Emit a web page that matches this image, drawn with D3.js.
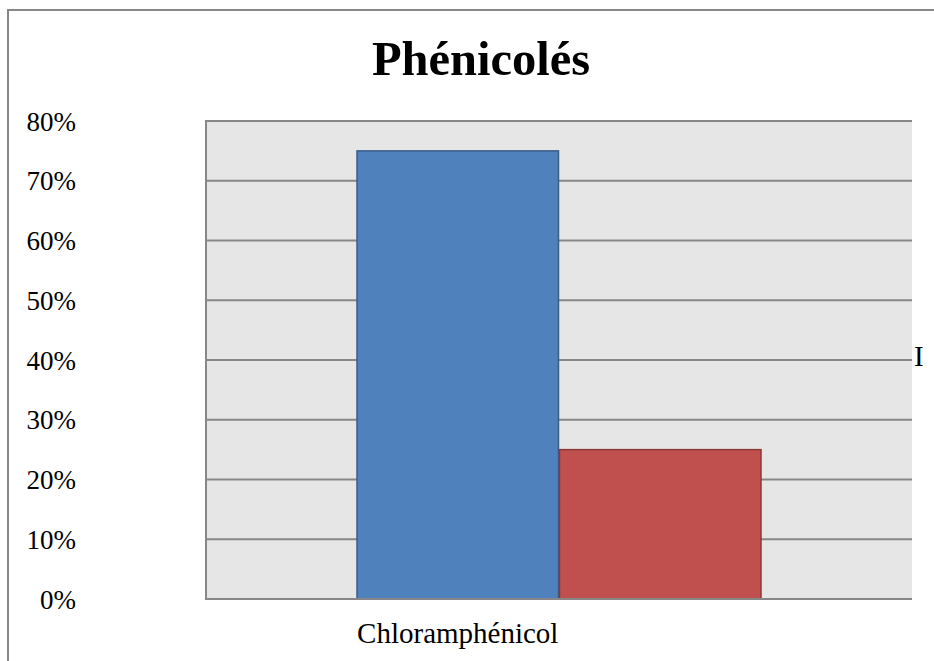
<!DOCTYPE html>
<html>
<head>
<meta charset="utf-8">
<script src="https://cdn.jsdelivr.net/npm/d3@7"></script>
<style>
  html, body { margin: 0; padding: 0; background: #fff; }
  svg { display: block; }
</style>
</head>
<body>
<svg id="chart" width="934" height="661"></svg>
<script>
const title = "Phénicolés";
const categories = ["Chloramphénicol"];
const seriesNames = ["Série 1", "Série 2"];
const seriesValues = [[0.75], [0.25]];
const yTicks = [0, 0.1, 0.2, 0.3, 0.4, 0.5, 0.6, 0.7, 0.8];
const legendFragment = "I";

const fills = ["#4f81bd", "#c0504d"];
const strokes = ["#385d8a", "#8c3836"];

const svg = d3.select("#chart");
const plot = { left: 206, right: 912, top: 121, bottom: 599 };
const serif = "'Liberation Serif', 'Times New Roman', serif";

// outer frame
svg.append("rect").attr("x", 8).attr("y", 10).attr("width", 960).attr("height", 700)
  .attr("fill", "#fff").attr("stroke", "#888").attr("stroke-width", 2);

// title
svg.append("text").attr("x", 481).attr("y", 75).attr("text-anchor", "middle")
  .attr("font-family", serif).attr("font-weight", "bold").attr("font-size", 48.5)
  .attr("fill", "#000").text(title);

const y = d3.scaleLinear().domain([0, 0.8]).range([plot.bottom, plot.top]);
const groupWidth = 405;
const po = ((plot.right - plot.left) / groupWidth - 1) / 2;
const x0 = d3.scaleBand().domain(categories).range([plot.left, plot.right]).paddingInner(0).paddingOuter(po);
const x1 = d3.scaleBand().domain(seriesNames).range([0, x0.bandwidth()]).padding(0);

// plot background
svg.append("rect").attr("x", plot.left).attr("y", plot.top)
  .attr("width", plot.right - plot.left).attr("height", plot.bottom - plot.top)
  .attr("fill", "#e6e6e6");

// gridlines
svg.append("g").selectAll("line").data(yTicks.filter(t => t > 0)).join("line")
  .attr("x1", plot.left).attr("x2", plot.right)
  .attr("y1", d => y(d)).attr("y2", d => y(d))
  .attr("stroke", "#878787").attr("stroke-width", 2);

// left border
svg.append("line").attr("x1", plot.left).attr("x2", plot.left)
  .attr("y1", plot.top - 1).attr("y2", plot.bottom)
  .attr("stroke", "#878787").attr("stroke-width", 2);

// bars
const groups = svg.append("g").selectAll("g").data(categories).join("g")
  .attr("transform", d => `translate(${x0(d)},0)`);
seriesNames.forEach((s, si) => {
  groups.append("rect")
    .attr("x", x1(s) + 0.5)
    .attr("y", (d, ci) => y(seriesValues[si][ci]))
    .attr("width", x1.bandwidth() - 1)
    .attr("height", (d, ci) => plot.bottom - y(seriesValues[si][ci]))
    .attr("fill", fills[si]).attr("stroke", strokes[si]).attr("stroke-width", 1.5);
});

// bottom axis line
svg.append("line").attr("x1", plot.left - 1).attr("x2", plot.right)
  .attr("y1", plot.bottom).attr("y2", plot.bottom)
  .attr("stroke", "#878787").attr("stroke-width", 2);

// y tick labels
const yAxis = d3.axisLeft(y).tickValues(yTicks).tickFormat(d3.format(".0%")).tickSize(0).tickPadding(0);
const ya = svg.append("g").attr("transform", "translate(76,0)").call(yAxis);
ya.select(".domain").remove();
ya.selectAll("text").attr("font-family", serif).attr("font-size", 27).attr("fill", "#000")
  .attr("dy", "0.34em");

// category label (under first series as in the reference)
svg.append("g").selectAll("text").data(categories).join("text")
  .attr("x", d => x0(d) + x1(seriesNames[0]) + x1.bandwidth() / 2)
  .attr("y", 643).attr("text-anchor", "middle")
  .attr("font-family", serif).attr("font-size", 29).attr("fill", "#000")
  .text(d => d);

// legend fragment
svg.append("text").attr("x", 914).attr("y", 366)
  .attr("font-family", serif).attr("font-size", 29).attr("fill", "#000")
  .text(legendFragment);
</script>
</body>
</html>
